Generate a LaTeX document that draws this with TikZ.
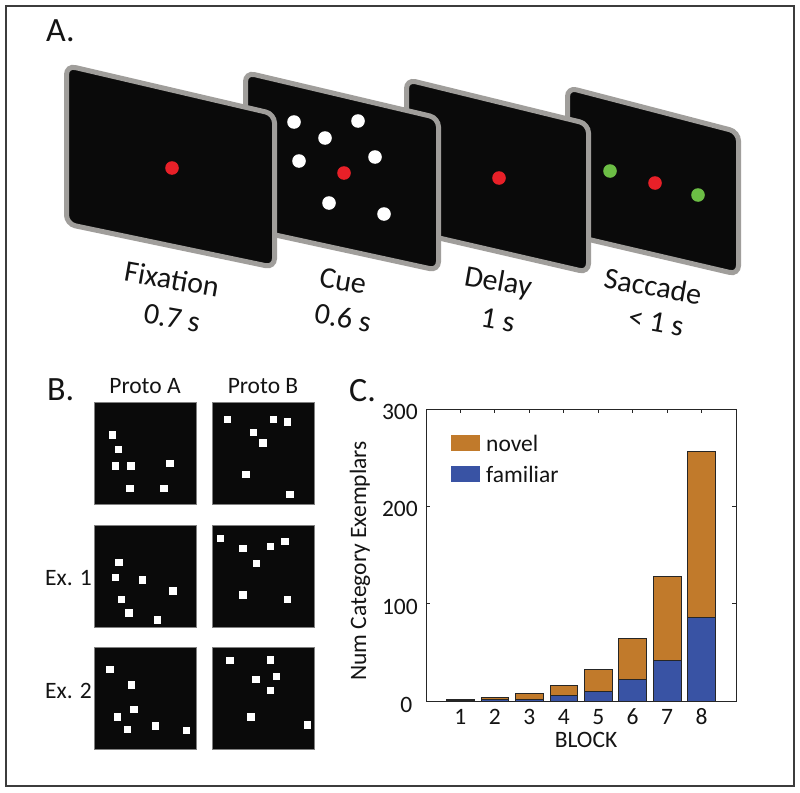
\documentclass[tikz,border=0pt]{standalone}
\usepackage{fontspec}
\setmainfont{Carlito}
\definecolor{framec}{RGB}{60,60,60}
\definecolor{scrgray}{RGB}{160,158,155}
\definecolor{scrblack}{RGB}{10,10,10}
\definecolor{dotred}{RGB}{232,32,40}
\definecolor{dotgreen}{RGB}{108,190,69}
\definecolor{novelc}{RGB}{193,122,43}
\definecolor{famc}{RGB}{57,83,164}
\definecolor{txt}{RGB}{20,20,20}
\definecolor{axc}{RGB}{38,38,38}
\begin{document}
\begin{tikzpicture}[x=1pt,y=-1pt,
  screen/.style={draw=scrgray,fill=scrblack,line width=5pt,rounded corners=9pt},
  panlab/.style={font=\fontsize{34}{40}\selectfont,text=txt,anchor=base west,inner sep=0pt},
  scrlab/.style={font=\fontsize{30}{36}\selectfont,text=txt,rotate=-10,inner sep=0pt},
  small/.style={font=\fontsize{23.5}{28}\selectfont,text=txt,inner sep=0pt},
  bsq/.style={fill=scrblack,draw=black!50,line width=0.4pt},
  bar/.style={draw=axc,line width=0.8pt}]
\useasboundingbox (0,0) rectangle (800,792);
\fill[white] (0,0) rectangle (800,792);
\draw[framec,line width=2pt] (6,6) rectangle (794,786);

% ---------- Panel A ----------
\node[panlab] (labA) at (46,42) {A.};
\draw[screen] (567.5,87.5) -- (738.5,132) -- (738.5,274.5) -- (567.5,234.5) -- cycle;
\draw[screen] (406.5,79.5) -- (588.5,124) -- (588.5,272.5) -- (406.5,230.5) -- cycle;
\draw[screen] (245.5,72.5) -- (438.5,118) -- (438.5,270.5) -- (245.5,228.5) -- cycle;
\draw[screen] (66.5,65.5) -- (274.5,114) -- (274.5,267.5) -- (66.5,224) -- cycle;
% dots
\fill[dotred] (172,168) circle (6.8);
\foreach \x/\y in {294/122,358/121,325/138,299/161,375/157,329/203,384/214}
  \fill[white] (\x,\y) circle (6.8);
\fill[dotred] (344,173) circle (6.8);
\fill[dotred] (499,178) circle (6.8);
\fill[dotgreen] (610,171) circle (6.8);
\fill[dotred] (655,183) circle (6.8);
\fill[dotgreen] (698,195) circle (6.8);
% labels
\node[scrlab] (fix) at (172,279) {Fixation};
\node[scrlab] (fixt) at (172,318) {0.7 s};
\node[scrlab] (cue) at (343,281) {Cue};
\node[scrlab] (cuet) at (343,318) {0.6 s};
\node[scrlab] (del) at (498,283) {Delay};
\node[scrlab] (delt) at (498,320) {1 s};
\node[scrlab] (sac) at (653,286) {Saccade};
\node[scrlab] (sact) at (656,322) {< 1 s};

% ---------- Panel B ----------
\node[panlab] (labB) at (47,400) {B.};
\node[small] (pa) at (145,386) {Proto A};
\node[small] (pb) at (263,386) {Proto B};
\node[small,anchor=east] (e1) at (92,578) {Ex. 1};
\node[small,anchor=east] (e2) at (92,691) {Ex. 2};
\foreach \x in {94,212}
  \foreach \y in {402,525,647}
    \draw[bsq] (\x,\y) rectangle ++(102,102);
\foreach \x/\y in {
  112.7/435,118.3/449.3,115.7/466,131/466,170/463.3,130/488.7,164/488.7,
  227.3/419.3,273.7/419.3,287.7/422,253.7/432.3,263/443,246/474.3,290/494.3,
  119/562.3,115.7/577.3,142.3/580,173/591,121.7/599.3,129/613,157.3/620,
  220.7/538.7,243/548.7,270.7/546.3,285/541.3,256.7/563.7,243/595,287.3/599.3,
  110/669.7,131.7/685,134/709.7,117.3/717,127.3/729.7,155.7/726,186.7/730.3,
  230/660.7,270.7/660,276.3/676.7,256/679.7,270.7/690.7,251/717,307.3/725}
  \fill[white] ({\x-3.7},{\y-3.7}) rectangle ++(7.4,7.4);

% ---------- Panel C ----------
\node[panlab] (labC) at (349,401) {C.};
\foreach \i/\t/\f in {1/2/0.6,2/4/1.8,3/8/2,4/16/6,5/32/10,6/64/22,7/128/42,8/256/86}{
  \pgfmathsetmacro\cx{426+\i*34.444}
  \pgfmathsetmacro\yt{701-\t*0.97333}
  \pgfmathsetmacro\yf{701-\f*0.97333}
  \filldraw[bar,fill=novelc] ({\cx-13.8},701) rectangle ({\cx+13.8},\yt);
  \filldraw[bar,fill=famc] ({\cx-13.8},701) rectangle ({\cx+13.8},\yf);
  \draw[axc,line width=0.8pt] (\cx,409) -- (\cx,413);
  \node[small] (xt\i) at (\cx,717) {\i};
}
\foreach \v in {100,200}{
  \pgfmathsetmacro\yy{701-\v*0.97333}
  \draw[axc,line width=0.8pt] (426,\yy) -- (430,\yy);
  \draw[axc,line width=0.8pt] (736,\yy) -- (732,\yy);
}
\draw[axc,line width=1pt] (426,409) rectangle (736,701);
\node[small,anchor=east] (y300) at (418,412) {300};
\node[small,anchor=east] (y200) at (418,509) {200};
\node[small,anchor=east] (y100) at (418,606.5) {100};
\node[small,anchor=east] (y0) at (412.5,704.5) {0};
\node[small] (blk) at (586,740) {BLOCK};
\node[small,rotate=90] (ylab) at (360,561) {Num Category Exemplars};
% legend
\fill[novelc] (451,435) rectangle (480,451);
\fill[famc] (451,466) rectangle (480,482);
\node[small,anchor=west] (lnov) at (486,443) {novel};
\node[small,anchor=west] (lfam) at (486,474) {familiar};
\end{tikzpicture}
\end{document}
